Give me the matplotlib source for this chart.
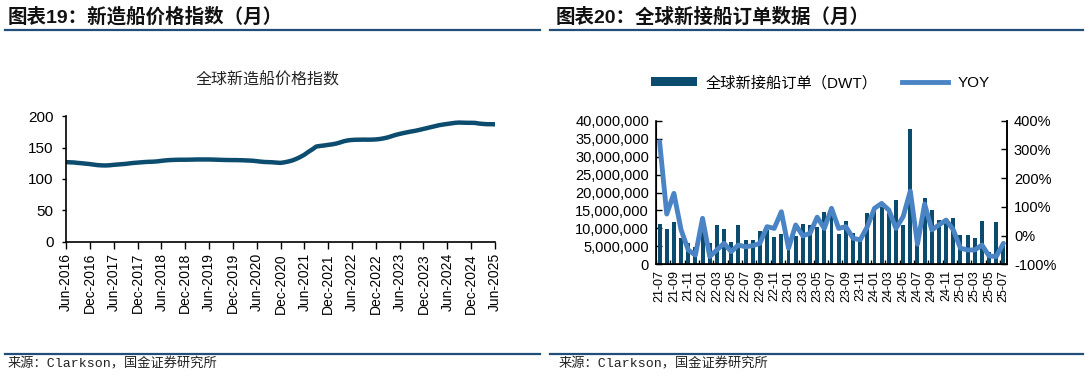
import matplotlib
matplotlib.use('Agg')
import matplotlib.pyplot as plt
from matplotlib.lines import Line2D
from matplotlib.patches import Patch
from matplotlib.ticker import FuncFormatter, FixedLocator

plt.rcParams['font.family'] = ['Liberation Sans', 'Noto Sans CJK SC']

# ---------------- data: left chart (monthly, Jun-2016 .. Jun-2025) ----------------
price_index = [
    126.8, 126.5, 126.2, 125.5, 125.0, 124.3, 123.7,                      # 2016 Jun-Dec
    122.8, 122.0, 121.6, 121.5, 121.8, 122.5, 123.0, 123.5, 124.0, 124.8, 125.5, 126.0,  # 2017
    126.5, 127.0, 127.3, 127.5, 128.0, 128.8, 129.5, 130.0, 130.3, 130.5, 130.6, 130.6,  # 2018
    130.7, 130.8, 131.0, 131.0, 131.0, 131.0, 130.8, 130.6, 130.4, 130.2, 130.1, 130.0,  # 2019
    130.0, 129.8, 129.6, 129.3, 129.0, 128.3, 127.6, 127.0, 126.8, 126.5, 126.0, 125.6,  # 2020
    126.5, 127.8, 129.5, 132.0, 135.0, 138.5, 143.0, 147.0, 151.5, 152.5, 153.2, 154.2,  # 2021
    155.0, 156.2, 158.0, 160.0, 161.3, 162.0, 162.3, 162.4, 162.5, 162.4, 162.5, 162.8,  # 2022
    163.5, 164.6, 166.0, 168.0, 170.0, 171.6, 173.0, 174.3, 175.5, 176.6, 178.0, 179.5,  # 2023
    181.0, 182.5, 184.0, 185.5, 186.5, 187.4, 188.3, 189.2, 189.6, 189.4, 189.2, 189.2,  # 2024
    189.0, 188.0, 187.4, 187.0, 187.0, 186.8,                                # 2025 Jan-Jun
]
price_tick_labels = [
    'Jun-2016', 'Dec-2016', 'Jun-2017', 'Dec-2017', 'Jun-2018', 'Dec-2018',
    'Jun-2019', 'Dec-2019', 'Jun-2020', 'Dec-2020', 'Jun-2021', 'Dec-2021',
    'Jun-2022', 'Dec-2022', 'Jun-2023', 'Dec-2023', 'Jun-2024', 'Dec-2024', 'Jun-2025',
]
price_yticks = [0, 50, 100, 150, 200]

# ---------------- data: right chart (monthly, 21-07 .. 25-07) ----------------
order_months = [
    '21-07', '21-08', '21-09', '21-10', '21-11', '21-12',
    '22-01', '22-02', '22-03', '22-04', '22-05', '22-06', '22-07', '22-08', '22-09', '22-10', '22-11', '22-12',
    '23-01', '23-02', '23-03', '23-04', '23-05', '23-06', '23-07', '23-08', '23-09', '23-10', '23-11', '23-12',
    '24-01', '24-02', '24-03', '24-04', '24-05', '24-06', '24-07', '24-08', '24-09', '24-10', '24-11', '24-12',
    '25-01', '25-02', '25-03', '25-04', '25-05', '25-06', '25-07',
]
order_dwt = [
    11300000, 9700000, 11700000, 7200000, 5800000, 4700000,
    12500000, 5800000, 10900000, 9700000, 6300000, 10900000, 6700000, 6700000, 9200000, 9500000, 7600000, 8400000,
    4000000, 8000000, 11300000, 10900000, 10400000, 14600000, 14500000, 8400000, 12000000, 8800000, 7000000, 14200000,
    15400000, 16000000, 14200000, 18000000, 11000000, 37600000, 8000000, 18400000, 15100000, 12300000, 12300000, 13000000,
    8200000, 8200000, 7200000, 12100000, 3400000, 11800000, 5800000,
]
order_yoy = [
    327, 75, 147, 20, -50, -68,
    60, -73, -50, -27, -56, -33, -39, -35, -27, 31, 25, 83,
    -44, 37, -1, 8, 64, 25, 95, 25, 31, -9, -15, 31,
    95, 112, 89, 25, 66, 155, -30, 110, 20, 37, 54, 20,
    -44, -50, -50, -33, -71, -73, -27,
]
left_yticks = [0, 5000000, 10000000, 15000000, 20000000, 25000000, 30000000, 35000000, 40000000]
right_yticks = [-100, 0, 100, 200, 300, 400]

# ---------------- styling ----------------
DARK = '#0C4C6E'
BAR = '#0A4B6E'
YOY = '#4A84C4'
RULE = '#1F4E79'
W, H = 1086, 377

fig = plt.figure(figsize=(W / 100, H / 100), dpi=100)

def fx(px):
    return px / W

def fy(py):
    return 1 - py / H

# headers
fig.text(fx(8), fy(17), '图表19：新造船价格指数（月）', fontsize=14, fontweight='bold',
         ha='left', va='center', color='#111111')
fig.text(fx(556), fy(17), '图表20：全球新接船订单数据（月）', fontsize=14, fontweight='bold',
         ha='left', va='center', color='#111111')
for x0, x1 in [(5, 540), (550, 1083)]:
    fig.add_artist(Line2D([fx(x0), fx(x1)], [fy(30), fy(30)], transform=fig.transFigure,
                          color=RULE, lw=1.6))
    fig.add_artist(Line2D([fx(x0), fx(x1)], [fy(354), fy(354)], transform=fig.transFigure,
                          color=RULE, lw=1.6))
src_fam = ['Liberation Mono', 'Noto Sans CJK SC']
fig.text(fx(8), fy(364), '来源：Clarkson，国金证券研究所', fontsize=9.5, family=src_fam,
         ha='left', va='center', color='#222222')
fig.text(fx(559), fy(364), '来源：Clarkson，国金证券研究所', fontsize=9.5, family=src_fam,
         ha='left', va='center', color='#222222')

# ---------------- left chart ----------------
ax1 = fig.add_axes([fx(66), fy(242), fx(495) - fx(66), fy(116) - fy(242)])
xs = list(range(len(price_index)))
ax1.plot(xs, price_index, color=DARK, lw=3.2, solid_capstyle='round', solid_joinstyle='round')
ax1.set_xlim(0, len(price_index) - 1)
ax1.set_ylim(0, 200)
ax1.set_yticks(price_yticks)
ax1.set_xticks(list(range(0, len(price_index), 6)))
ax1.set_xticklabels(price_tick_labels, rotation=90, fontsize=10)
ax1.tick_params(axis='y', labelsize=11, direction='out', length=3, width=1, pad=6)
ax1.tick_params(axis='x', direction='out', length=5, width=1, pad=3)
for s in ['top', 'right']:
    ax1.spines[s].set_visible(False)
for s in ['left', 'bottom']:
    ax1.spines[s].set_color('black')
    ax1.spines[s].set_linewidth(1.2)
fig.text(fx(268), fy(80), '全球新造船价格指数', fontsize=11.5, ha='center', va='center',
         color='#222222')

# ---------------- right chart ----------------
ax2 = fig.add_axes([fx(656), fy(264.3), fx(1007) - fx(656), fy(120.7) - fy(264.3)])
xb = list(range(len(order_dwt)))
ax2.bar(xb, order_dwt, width=0.55, color=BAR, zorder=2)
ax2.set_xlim(-0.5, len(order_dwt) - 0.5)
ax2.set_ylim(0, 40000000)
ax2.set_yticks(left_yticks)
ax2.yaxis.set_major_formatter(FuncFormatter(lambda v, p: f'{v:,.0f}'))
ax2.set_xticks(xb[::2])
ax2.set_xticklabels(order_months[::2], rotation=90, fontsize=9)
ax2.xaxis.set_minor_locator(FixedLocator([i - 0.5 for i in range(0, len(order_dwt) + 1, 2)]))
ax2.tick_params(axis='x', which='major', length=0, pad=4)
ax2.tick_params(axis='x', which='minor', direction='in', length=3, width=1)
ax2.tick_params(axis='y', labelsize=10.5, direction='in', length=4, width=1, pad=5)
ax2.spines['top'].set_visible(False)
for s in ['left', 'bottom', 'right']:
    ax2.spines[s].set_color('black')
    ax2.spines[s].set_linewidth(1.2)

ax3 = ax2.twinx()
ax3.plot(xb, order_yoy, color=YOY, lw=3.5, solid_capstyle='round', solid_joinstyle='round', zorder=3)
ax3.set_ylim(-100, 400)
ax3.set_yticks(right_yticks)
ax3.yaxis.set_major_formatter(FuncFormatter(lambda v, p: f'{v:.0f}%'))
ax3.tick_params(axis='y', labelsize=10.5, direction='in', length=4, width=1, pad=5)
ax3.spines['top'].set_visible(False)
ax3.spines['right'].set_linewidth(1.2)

handles = [Patch(facecolor=BAR, edgecolor='none'),
           Line2D([0], [0], color=YOY, lw=3.5)]
fig.legend(handles, ['全球新接船订单（DWT）', 'YOY'], loc='center', ncol=2,
           bbox_to_anchor=(fx(820), fy(83)), frameon=False, fontsize=11,
           handlelength=3.0, handleheight=0.55, columnspacing=1.6, handletextpad=0.6)

fig.savefig('out.png', dpi=100)
